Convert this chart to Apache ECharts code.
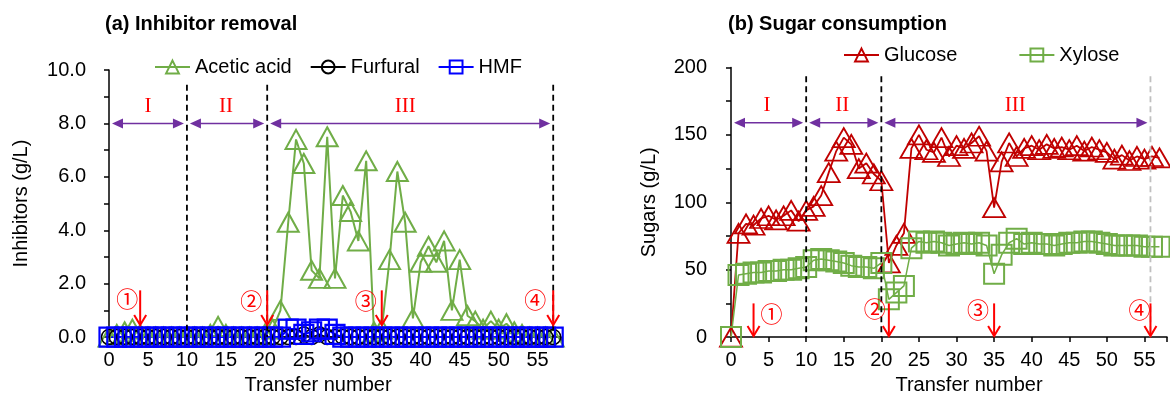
<!DOCTYPE html>
<html lang="en">
<head>
    <meta charset="UTF-8">
    <title>Inhibitor removal and sugar consumption</title>
    <style type="text/css">
        html, body, #chart {
            width: 1170px;
            height: 400px;
            margin: 0;
            padding: 0;
            background: #fff;
        }
    </style>
</head>
<body>
<div id="chart"></div>
<script src="https://cdn.jsdelivr.net/npm/echarts/dist/echarts.min.js"></script>
<script>
    // transfer number (x of both panels)
    var transfer = [0, 1, 2, 3, 4, 5, 6, 7, 8, 9, 10, 11, 12, 13, 14, 15, 16, 17, 18, 19,
        20, 21, 22, 23, 24, 25, 26, 27, 28, 29, 30, 31, 32, 33, 34, 35, 36, 37, 38, 39,
        40, 41, 42, 43, 44, 45, 46, 47, 48, 49, 50, 51, 52, 53, 54, 55, 56, 57];

    // (a) inhibitors, g/L
    var aceticAcid = [0, 0.1, 0.2, 0.3, 0.1, 0, 0, 0, 0, 0, 0, 0, 0, 0.1, 0.4, 0.1, 0, 0, 0, 0,
        0.1, 0.3, 1.0, 4.3, 7.4, 6.5, 2.5, 2.2, 7.5, 2.2, 5.3, 4.7, 3.6, 6.6, 0.2, 0.3, 2.9, 6.2, 4.3, 0.7,
        2.8, 3.4, 2.8, 3.6, 1.0, 2.9, 0.8, 0.6, 0.3, 0.6, 0.3, 0.5, 0.2, 0.1, 0, 0, 0, 0];
    var furfural = [0, 0, 0, 0, 0, 0, 0, 0, 0, 0, 0, 0, 0, 0, 0, 0, 0, 0, 0, 0,
        0, 0, 0, 0, 0, 0.1, 0, 0.1, 0, 0, 0, 0, 0, 0, 0, 0, 0, 0, 0, 0,
        0, 0, 0, 0, 0, 0, 0, 0, 0, 0, 0, 0, 0, 0, 0, 0, 0, 0];
    var hmf = [0, 0, 0, 0, 0, 0, 0, 0, 0, 0, 0, 0, 0, 0, 0, 0, 0, 0, 0, 0,
        0, 0, 0, 0.3, 0.3, 0.1, 0.2, 0.3, 0.3, 0.1, 0, 0, 0, 0, 0, 0, 0, 0, 0, 0,
        0, 0, 0, 0, 0, 0, 0, 0, 0, 0, 0, 0, 0, 0, 0, 0, 0, 0];

    // (b) sugars, g/L
    var glucose = [0, 77, 84, 83, 88, 90, 87, 90, 94, 86, 94, 97, 105, 122, 138, 148, 143, 125, 129, 121,
        116, 55, 68, 77, 140, 150, 139, 137, 148, 134, 142, 140, 144, 149, 138, 96, 130, 144, 134, 140,
        142, 139, 143, 140, 141, 139, 142, 138, 141, 139, 137, 132, 135, 131, 134, 132, 134, 133];
    var xylose = [0, 46, 47, 48, 48, 49, 49, 50, 50, 51, 52, 57, 58, 57, 56, 55, 53, 52, 52, 51,
        55, 28, 33, 38, 66, 71, 70, 71, 70, 68, 69, 70, 69, 70, 68, 47, 61, 70, 73, 69,
        70, 69, 69, 68, 69, 70, 70, 71, 71, 70, 69, 68, 68, 68, 68, 67, 67, 67];

    // phases and events (transfer number)
    var phaseNames = ['I', 'II', 'III'];
    var phaseEdgesA = [0, 10, 20.3, 57];
    var phaseEdgesB = [0, 10, 20, 55.8];
    var phaseMidA = [5, 15, 38];
    var phaseMidB = [4.8, 14.8, 37.8];
    var eventNames = ['①', '②', '③', '④'];
    var eventsA = [4, 20.3, 35, 57];
    var eventsB = [3, 21, 35, 55.8];

    function pairs(xs, ys) {
        var out = [];
        for (var i = 0; i < xs.length; i++) {
            out.push([xs[i], ys[i]]);
        }
        return out;
    }

    var font = 'Liberation Sans';

    function lineSeries(name, data, color, symbol, size, grid, lw, bw) {
        return {
            name: name,
            type: 'line',
            xAxisIndex: grid,
            yAxisIndex: grid,
            data: data,
            symbol: symbol,
            symbolSize: size,
            clip: false,
            lineStyle: {color: color, width: lw},
            itemStyle: {color: 'transparent', borderColor: color, borderWidth: bw},
            emphasis: {disabled: true}
        };
    }

    // dashed phase lines, purple spans, roman numerals, red event arrows
    function annotations(cfg) {
        return function (params, api) {
            var g = [];
            var b = cfg.edges;
            for (var i = 1; i < b.length; i++) {
                var p0 = api.coord([b[i], cfg.dashTop]);
                var p1 = api.coord([b[i], 0]);
                g.push({
                    type: 'line',
                    shape: {x1: p0[0], y1: p0[1], x2: p1[0], y2: p1[1]},
                    style: {stroke: i === b.length - 1 ? cfg.lastDash : '#000', lineWidth: 1.8, lineDash: [6, 4]}
                });
            }
            for (var j = 0; j < b.length - 1; j++) {
                var a = api.coord([b[j], cfg.spanY]);
                var c = api.coord([b[j + 1], cfg.spanY]);
                var xa = a[0] + 3, xc = c[0] - 3, y = a[1];
                g.push({type: 'line', shape: {x1: xa + 6, y1: y, x2: xc - 6, y2: y},
                    style: {stroke: '#7030A0', lineWidth: 1.5}});
                g.push({type: 'polygon', shape: {points: [[xa, y], [xa + 11, y - 5], [xa + 11, y + 5]]},
                    style: {fill: '#7030A0'}});
                g.push({type: 'polygon', shape: {points: [[xc, y], [xc - 11, y - 5], [xc - 11, y + 5]]},
                    style: {fill: '#7030A0'}});
                var r = api.coord([cfg.mid[j], cfg.romanY]);
                g.push({type: 'text', style: {x: r[0], y: r[1], text: phaseNames[j], fill: '#FF0000',
                    font: '21px "Liberation Serif"', align: 'center', verticalAlign: 'middle'}});
            }
            for (var k = 0; k < cfg.events.length; k++) {
                var t = api.coord([cfg.events[k], cfg.arrowTop]);
                var e = api.coord([cfg.events[k], cfg.arrowTip]);
                g.push({type: 'line', shape: {x1: t[0], y1: t[1], x2: e[0], y2: e[1] - 1},
                    style: {stroke: '#FF0000', lineWidth: 2}});
                g.push({type: 'polyline', shape: {points: [[e[0] - 6, e[1] - 10], [e[0], e[1]], [e[0] + 6, e[1] - 10]]},
                    style: {stroke: '#FF0000', lineWidth: 2, fill: null}});
                g.push({type: 'text', style: {x: t[0] + cfg.dx[k], y: t[1] + cfg.dy[k], text: eventNames[k],
                    fill: '#FF0000', font: '22px "Noto Sans CJK SC"', align: 'center', verticalAlign: 'middle'}});
            }
            return {type: 'group', children: g};
        };
    }

    function xAxisFor(grid, pad) {
        return {
            gridIndex: grid,
            type: 'value',
            min: 0,
            max: 58,
            interval: 5,
            name: 'Transfer number',
            nameLocation: 'middle',
            nameGap: 36,
            nameTextStyle: {fontSize: 20, color: '#000', fontFamily: font, padding: pad},
            axisLine: {show: true, onZero: false, lineStyle: {color: '#000', width: 1.5}},
            axisTick: {show: true, length: 5, lineStyle: {color: '#000', width: 1.5}},
            axisLabel: {
                fontSize: 20, color: '#000', fontFamily: font, margin: 13,
                formatter: function (v) { return v % 5 === 0 ? String(v) : ''; }
            },
            splitLine: {show: false}
        };
    }

    var chart = echarts.init(document.getElementById('chart'), null, {renderer: 'canvas'});
    var option = {
        animation: false,
        backgroundColor: '#fff',
        textStyle: {fontFamily: font},
        title: [{
            text: '(a) Inhibitor removal', left: 105, top: 14, padding: 0,
            textStyle: {fontSize: 20, fontWeight: 'bold', color: '#000', fontFamily: font}
        }, {
            text: '(b) Sugar consumption', left: 728, top: 14, padding: 0,
            textStyle: {fontSize: 20, fontWeight: 'bold', color: '#000', fontFamily: font}
        }],
        legend: [{
            data: ['Acetic acid', 'Furfural', 'HMF'],
            left: 154, top: 57, padding: 0, itemWidth: 35, itemHeight: 16, itemGap: 18,
            textStyle: {fontSize: 20, color: '#000', fontFamily: font}
        }, {
            data: ['Glucose', 'Xylose'],
            left: 843, top: 45, padding: 0, itemWidth: 35, itemHeight: 16, itemGap: 61,
            textStyle: {fontSize: 20, color: '#000', fontFamily: font}
        }],
        grid: [
            {left: 109, top: 70, width: 452, height: 273},
            {left: 731, top: 67.5, width: 455, height: 274}
        ],
        xAxis: [xAxisFor(0, [0, 34, 0, 0]), xAxisFor(1, [0, 0, 0, 40])],
        yAxis: [{
            gridIndex: 0,
            type: 'value',
            min: 0,
            max: 10,
            interval: 1,
            name: 'Inhibitors (g/L)',
            nameLocation: 'middle',
            nameGap: 78,
            nameTextStyle: {fontSize: 20, color: '#000', fontFamily: font},
            axisLine: {show: true, lineStyle: {color: '#000', width: 1.5}},
            axisTick: {show: true, length: 5, lineStyle: {color: '#000', width: 1.5}},
            axisLabel: {
                fontSize: 20, color: '#000', fontFamily: font, margin: 23,
                formatter: function (v) { return v % 2 === 0 ? v.toFixed(1) : ''; }
            },
            splitLine: {show: false}
        }, {
            gridIndex: 1,
            type: 'value',
            min: 0,
            max: 200,
            interval: 25,
            name: 'Sugars (g/L)',
            nameLocation: 'middle',
            nameGap: 72,
            nameTextStyle: {fontSize: 20, color: '#000', fontFamily: font},
            axisLine: {show: true, lineStyle: {color: '#000', width: 1.5}},
            axisTick: {show: true, length: 5, lineStyle: {color: '#000', width: 1.5}},
            axisLabel: {
                fontSize: 20, color: '#000', fontFamily: font, margin: 24,
                formatter: function (v) { return v % 50 === 0 ? String(v) : ''; }
            },
            splitLine: {show: false}
        }],
        series: [
            lineSeries('Acetic acid', pairs(transfer, aceticAcid), '#70AD47', 'triangle', [21, 19], 0, 2, 2),
            lineSeries('Furfural', pairs(transfer, furfural), '#000000', 'circle', 15, 0, 1.5, 1.5),
            lineSeries('HMF', pairs(transfer, hmf), '#0000FF', 'rect', 19, 0, 2, 2.2),
            lineSeries('Glucose', pairs(transfer, glucose), '#C00000', 'triangle', [22, 19], 1, 1.8, 1.8),
            lineSeries('Xylose', pairs(transfer, xylose), '#70AD47', 'rect', 20, 1, 1.5, 2),
            {
                type: 'custom', xAxisIndex: 0, yAxisIndex: 0, data: [[0, 0]], silent: true, z: 5,
                renderItem: annotations({
                    edges: phaseEdgesA, mid: phaseMidA, events: eventsA, dashTop: 9.45, spanY: 8,
                    romanY: 8.65, arrowTop: 1.75, arrowTip: 0.45, lastDash: '#000',
                    dx: [-13, -16, -16, -18], dy: [8, 10, 10, 9]
                })
            },
            {
                type: 'custom', xAxisIndex: 1, yAxisIndex: 1, data: [[0, 0]], silent: true, z: 5,
                renderItem: annotations({
                    edges: phaseEdgesB, mid: phaseMidB, events: eventsB, dashTop: 193.5, spanY: 159,
                    romanY: 171.5, arrowTop: 25, arrowTip: 0.8, lastDash: '#BFBFBF',
                    dx: [18, -14, -16, -11], dy: [10, 5, 6, 6]
                })
            }
        ]
    };
    chart.setOption(option);
</script>
</body>
</html>
